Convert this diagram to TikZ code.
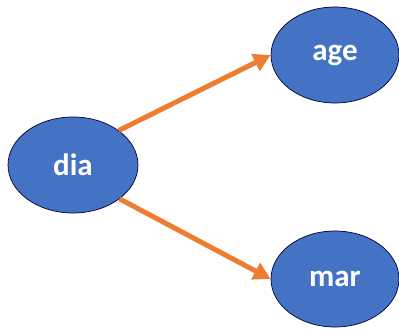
\documentclass[tikz,border=0pt]{standalone}
\usepackage{fontspec}
\setmainfont{Carlito}
\usepackage{tikz}
\usetikzlibrary{shapes.geometric, arrows.meta}
\definecolor{boxblue}{HTML}{4472C4}
\definecolor{arrorange}{HTML}{ED7D31}

\tikzset{
    var/.style={ellipse, draw=black!80!blue, line width=0.7pt, fill=boxblue,
        minimum width=130pt, minimum height=96pt, inner sep=0pt,
        text=white, font=\bfseries\fontsize{31}{36}\selectfont},
    link/.style={draw=arrorange, line width=5pt,
        -{Triangle[length=17pt,width=18pt]}}
}

\begin{document}
\begin{tikzpicture}[x=1pt,y=-1pt]
    \useasboundingbox (0,0) rectangle (399,329);

    % Draw variables
    \node[var] (dia) at (73,165) {dia};
    \node[var, minimum width=128pt] (age) at (335,55) {age};
    \node[var, minimum width=128pt] (mar) at (335,279) {mar};

    % Add links
    \draw[link] (dia.37) -- (age.west);
    \draw[link] (dia.-36) -- (mar.west);

\end{tikzpicture}
\end{document}
